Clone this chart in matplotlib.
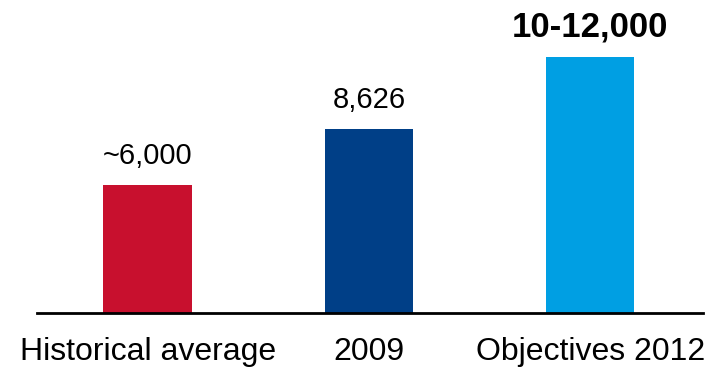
import matplotlib
matplotlib.use("Agg")
import matplotlib.pyplot as plt

categories = ["Historical average", "2009", "Objectives 2012"]
values = [6000, 8626, 12000]
value_labels = ["~6,000", "8,626", "10-12,000"]
label_bold = [False, False, True]
colors = ["#C8102E", "#003F87", "#009FE3"]

plt.rcParams["font.family"] = ["Liberation Sans", "DejaVu Sans"]

fig = plt.figure(figsize=(7.1, 3.67), dpi=100)
ax = fig.add_axes([37 / 710, 54 / 367, 666 / 710, 313 / 367])

x = range(len(categories))
ax.bar(x, values, width=0.4, color=colors)
for xi, v, lab, b in zip(x, values, value_labels, label_bold):
    ax.annotate(lab, (xi, v), xytext=(0, 15), textcoords="offset points",
                ha="center", va="baseline",
                fontsize=25 if b else 21,
                fontweight="bold" if b else "normal")

ax.set_xlim(-0.5, 2.51)
ax.set_ylim(0, 14670)
ax.set_xticks(list(x))
ax.set_xticklabels(categories, fontsize=23)
ax.tick_params(axis="x", length=0, pad=17)
ax.set_yticks([])
for s in ["top", "right", "left"]:
    ax.spines[s].set_visible(False)
ax.spines["bottom"].set_linewidth(2)
ax.patch.set_visible(False)

fig.savefig("out.png")
